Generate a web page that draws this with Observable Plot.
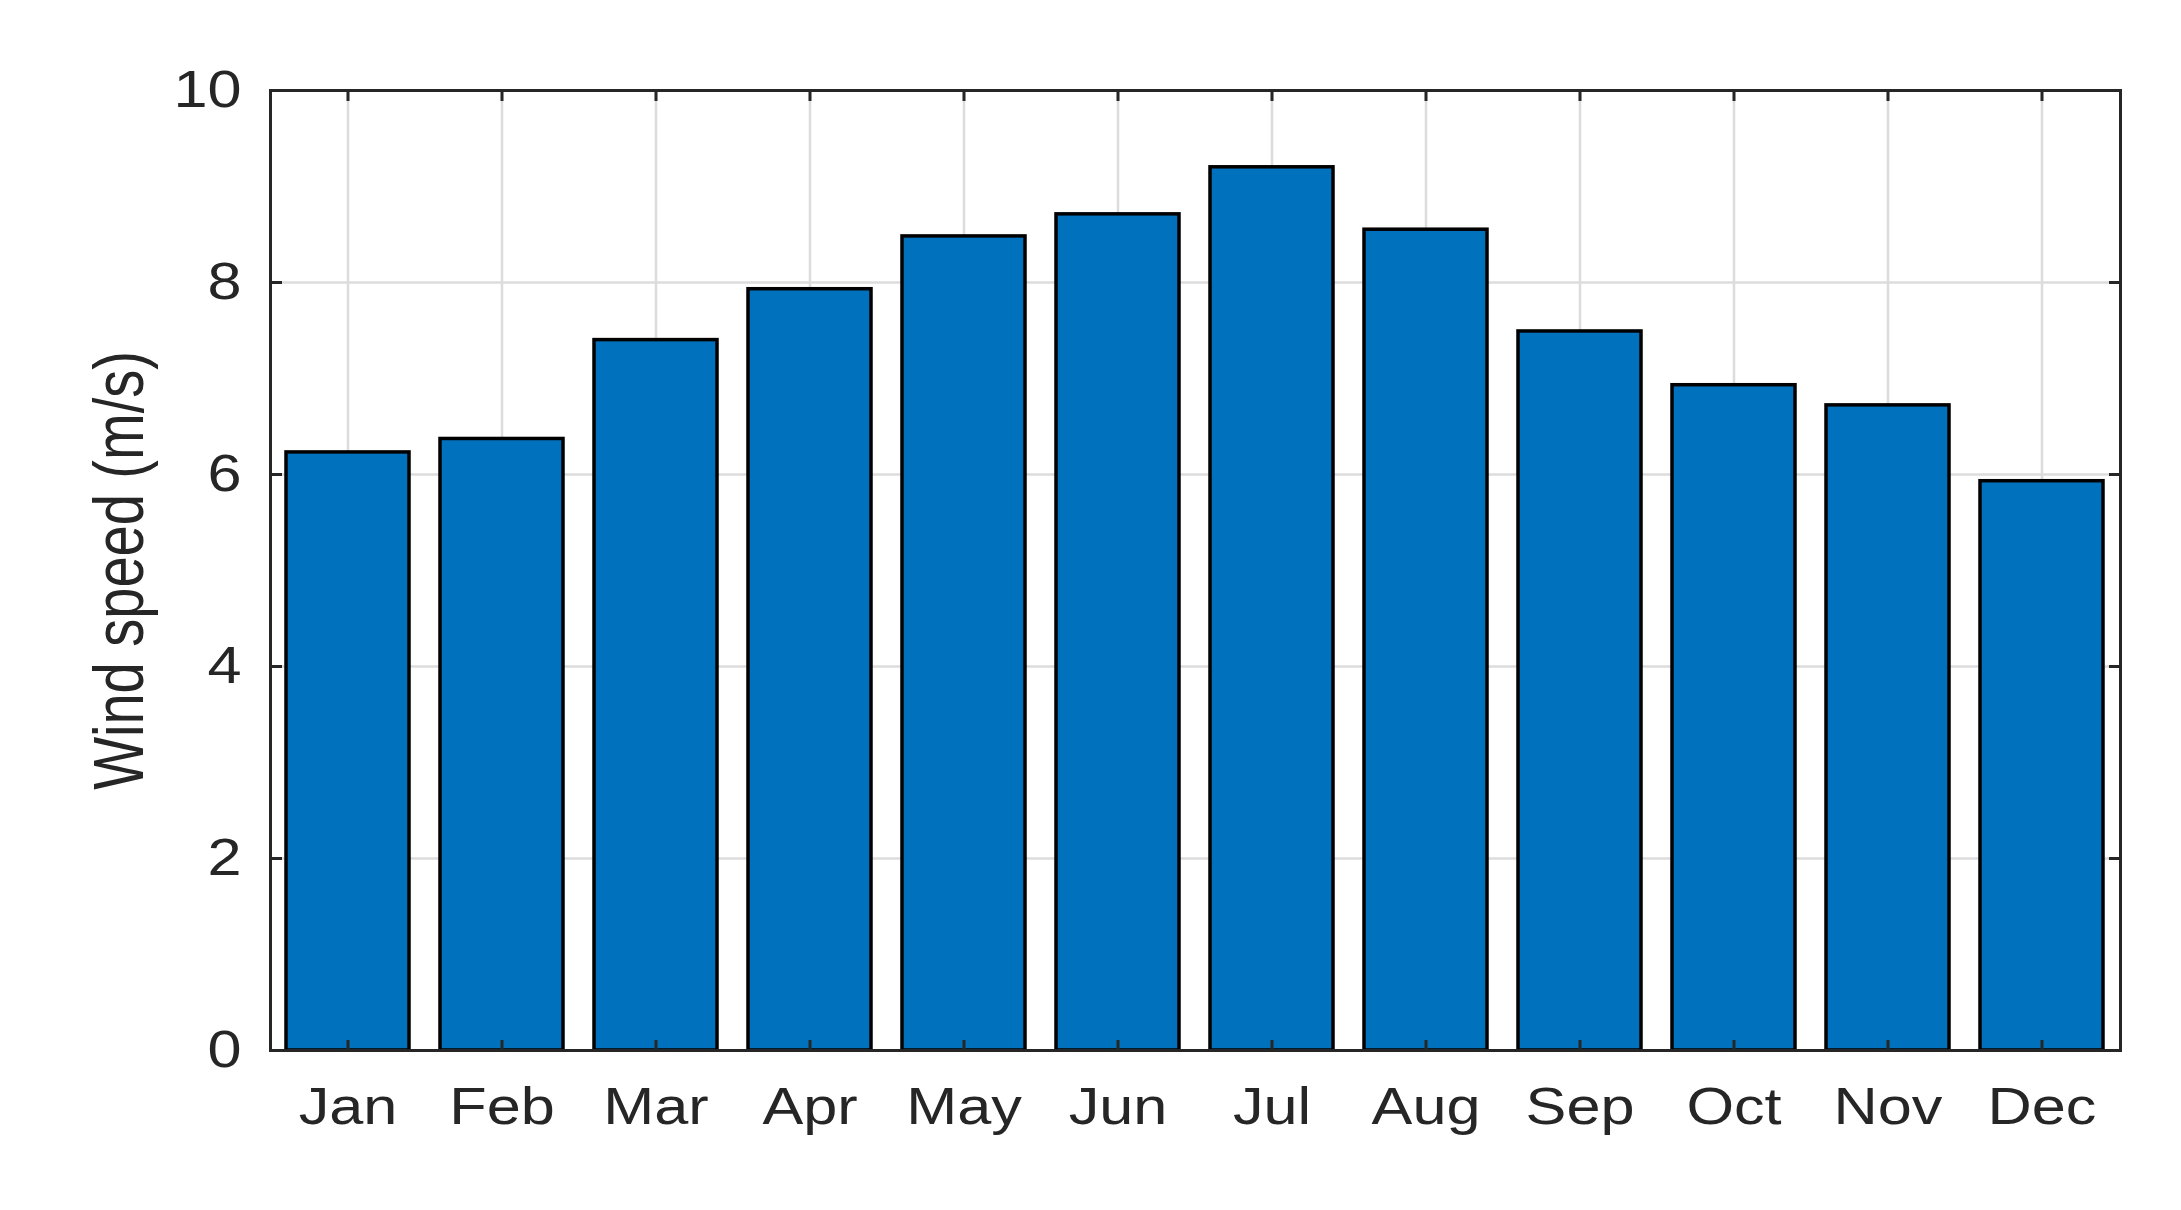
<!DOCTYPE html>
<html>
<head>
<meta charset="utf-8">
<script src="https://cdn.jsdelivr.net/npm/d3@7"></script>
<script src="https://cdn.jsdelivr.net/npm/@observablehq/plot@0.6"></script>
<style>
  html, body { margin: 0; padding: 0; background: #fff; }
  svg { display: block; }
</style>
</head>
<body>
<div id="chart"></div>
<script>
// ---- data ----
const months = ["Jan", "Feb", "Mar", "Apr", "May", "Jun", "Jul", "Aug", "Sep", "Oct", "Nov", "Dec"];
const windSpeed = [6.23, 6.37, 7.40, 7.93, 8.48, 8.71, 9.20, 8.55, 7.49, 6.93, 6.72, 5.93];
const yTicks = [0, 2, 4, 6, 8, 10];
const yLabel = "Wind speed (m/s)";

const data = months.map((m, i) => ({ month: m, speed: windSpeed[i] }));

// ---- layout ----
const W = 2181, H = 1210;
const mL = 270, mR = 61, mT = 90, mB = 160;
const plotW = W - mL - mR;
const plotH = H - mT - mB;
const axisColor = "#262626";
const gridColor = "#dcdcdc";

const chart = Plot.plot({
  width: W,
  height: H,
  marginLeft: mL,
  marginRight: mR,
  marginTop: mT,
  marginBottom: mB,
  style: {
    fontFamily: "'Liberation Sans', Arial, Helvetica, sans-serif",
    fontSize: "51px",
    background: "#fff",
    color: axisColor
  },
  x: { domain: months, paddingInner: 0.2, paddingOuter: 0.1, axis: null },
  y: { domain: [0, 10], axis: null },
  marks: [
    Plot.gridX(months, { stroke: gridColor, strokeOpacity: 1, strokeWidth: 2.5 }),
    Plot.gridY(yTicks, { stroke: gridColor, strokeOpacity: 1, strokeWidth: 2.5 }),
    Plot.barY(data, { x: "month", y: "speed", fill: "#0072BD", stroke: "#000", strokeWidth: 3.5 }),
    // inward ticks on all four sides
    Plot.axisX(months, { anchor: "top", dy: plotH, tickSize: 11, fill: "none", stroke: axisColor, strokeWidth: 3, label: null }),
    Plot.axisX(months, { anchor: "bottom", dy: -plotH, tickSize: 11, fill: "none", stroke: axisColor, strokeWidth: 3, label: null }),
    Plot.axisY(yTicks, { anchor: "right", dx: -plotW, tickSize: 11, fill: "none", stroke: axisColor, strokeWidth: 3, label: null }),
    Plot.axisY(yTicks, { anchor: "left", dx: plotW, tickSize: 11, fill: "none", stroke: axisColor, strokeWidth: 3, label: null }),
    // tick labels
    Plot.axisX(months, { anchor: "bottom", tickSize: 0, tickPadding: 37, fill: axisColor, label: null }),
    Plot.axisY(yTicks, { anchor: "left", tickSize: 0, tickPadding: 29, fill: axisColor, label: null, tickFormat: d3.format("d") }),
    Plot.frame({ stroke: axisColor, strokeWidth: 3 }),
    Plot.text([yLabel], { frameAnchor: "left", rotate: -90, dx: -128, textAnchor: "middle", lineAnchor: "bottom", fontSize: 56, fill: axisColor })
  ]
});

document.getElementById("chart").appendChild(chart);

// Horizontal stretch of the text to mimic the reference rendering
const svg = d3.select(chart);
svg.selectAll('g[aria-label="x-axis tick label"] text, g[aria-label="y-axis tick label"] text').each(function () {
  const t = this.getAttribute("transform") || "";
  this.setAttribute("transform", (t + " scale(1.2,1)").trim());
});
svg.selectAll('g[aria-label="text"] text').each(function () {
  const t = this.getAttribute("transform") || "";
  this.setAttribute("transform", (t + " scale(1,1.25)").trim());
});
</script>
</body>
</html>
